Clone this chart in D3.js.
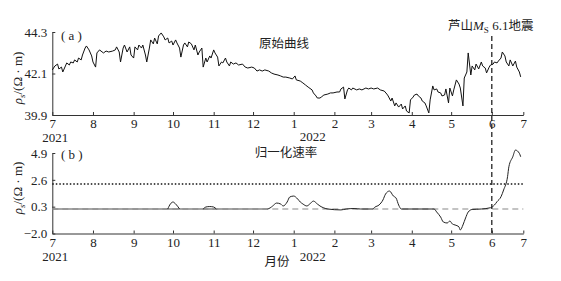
<!DOCTYPE html>
<html lang="zh-CN">
<head>
<meta charset="utf-8">
<title>芦山 视电阻率</title>
<script src="https://d3js.org/d3.v7.min.js"></script>
<style>
  body { margin: 0; background: #fff; }
  svg text { fill: #222; }
  .num { font-family: "Liberation Serif", serif; font-size: 13px; }
  .cjk { font-family: "Noto Sans CJK SC", sans-serif; font-size: 12.5px; }
</style>
</head>
<body>
<div id="chart"></div>
<script>
// 月份刻度 (最后一个 "7" 在 6/25 处结束)
const tickDates = ["2021-07-01","2021-08-01","2021-09-01","2021-10-01","2021-11-01","2021-12-01",
  "2022-01-01","2022-02-01","2022-03-01","2022-04-01","2022-05-01","2022-06-01","2022-06-25"];
const tickLabels = ["7","8","9","10","11","12","1","2","3","4","5","6","7"];
const quakeDate = "2022-06-01";

// (a) 原始曲线: 自 2021-07-01 起的天数, 视电阻率
const rawDays = [0,2,4,5,7,8,10,11,13,14,16,17,19,20,22,23,25,26,28,30,31,33,34,36,39,41,43,46,48,49,
  51,52,54,55,57,59,60,62,63,65,66,68,69,71,72,74,75,77,78,80,81,83,85,86,88,89,91,92,94,95,
  97,98,100,101,103,104,106,108,109,111,112,114,115,117,118,120,121,123,124,126,127,129,130,132,133,135,136,138,140,142,
  145,147,149,152,154,156,158,160,162,165,167,169,172,174,176,178,181,183,185,186,189,191,193,195,198,199,201,202,204,205,
  207,210,212,214,217,219,220,222,223,225,226,228,229,232,234,236,239,241,243,245,248,250,253,255,256,258,259,261,262,264,
  266,267,269,270,272,273,275,276,278,279,281,282,284,285,287,288,290,291,293,294,296,297,299,300,302,303,305,306,308,310,
  311,313,314,316,317,319,320,322,323,325,327,328,330,331,333,334,336,337,339,340,342,343,345,346,348,349,351,353,354,356,357];
const rawRho = [42.29,42.50,42.60,42.34,42.44,42.18,42.50,42.66,42.55,42.71,42.66,42.82,42.71,42.92,42.82,43.08,43.45,43.56,43.35,43.03,
  42.71,42.44,43.19,43.35,43.19,43.29,43.24,43.29,43.35,43.51,
  43.24,42.71,43.45,43.61,43.24,43.51,43.08,42.92,43.51,43.35,43.61,43.45,43.61,43.08,42.71,43.45,43.88,43.67,43.98,43.67,
  44.09,44.25,44.04,43.88,43.98,43.72,43.82,43.61,43.88,43.72,
  43.45,42.97,43.61,43.72,43.51,43.77,43.67,43.35,43.61,43.08,43.24,43.45,42.44,42.92,42.71,43.03,42.92,43.35,43.19,42.97,
  42.50,42.71,42.66,42.92,42.71,42.50,42.71,42.60,42.66,42.55,
  42.60,42.44,42.39,42.44,42.39,42.23,42.29,42.23,42.29,42.23,42.13,42.07,42.02,41.97,41.91,41.91,41.86,41.81,41.97,41.76,
  41.70,41.60,41.49,41.38,41.23,41.07,40.91,40.80,40.80,40.85,
  40.96,41.01,41.07,41.07,41.12,41.12,41.28,41.38,40.75,41.23,41.33,41.23,41.33,41.23,41.28,41.23,41.33,41.28,41.33,41.28,
  41.33,41.23,41.17,41.01,40.91,40.64,40.80,40.38,40.54,40.32,
  40.48,40.22,40.38,40.11,40.01,40.70,40.85,40.96,41.01,40.91,40.80,40.64,40.54,40.38,40.01,40.70,41.44,41.23,41.28,41.12,
  41.07,40.91,40.96,41.28,40.54,41.33,40.91,41.23,41.76,41.54,
  41.33,40.38,41.86,42.18,43.19,42.02,42.50,42.29,42.60,42.34,42.71,42.50,42.39,42.13,42.44,42.55,42.60,42.71,42.66,42.76,
  42.92,43.24,43.03,42.71,42.50,42.82,42.50,42.76,42.44,42.18,41.92];

// (b) 归一化速率
const rateDays = [0,88,90,92,94,97,115,117,120,123,125,164,166,168,171,174,176,179,181,184,187,189,191,194,197,199,202,204,207,210,
  220,224,230,235,244,246,249,252,254,257,260,262,264,266,291,293,296,298,301,303,305,307,310,311,313,315,317,320,327,334,
  337,339,342,344,347,348,351,353,356,357];
const rateVal = [0.1,0.1,0.53,0.70,0.53,0.1,0.1,0.27,0.31,0.27,0.1,0.1,0.19,0.36,0.61,0.53,0.36,0.70,1.13,1.21,0.96,0.70,0.53,0.36,0.61,0.78,0.53,0.36,0.19,0.1,
  0.02,0.1,0.14,0.1,0.1,0.27,0.44,0.87,1.38,1.64,1.21,1.04,0.44,0.1,0.1,-0.16,-0.59,-1.01,-1.10,-0.93,-1.19,-1.27,-1.44,-1.70,-1.27,-0.67,-0.16,0.06,0.1,0.21,
  0.44,0.73,1.15,1.73,2.87,3.72,4.58,5.15,4.87,4.58];
const rateBase = 0.1;
const rateThreshold = 2.25;
const flatUntil = 164; // 之前的平直段为灰色
const bumps = [[88, 97], [115, 125]];

const topTicks = [39.9, 42.1, 44.3];
const botTicks = [-2.0, 0.3, 2.6, 4.9];

const W = 561, H = 281;
const x0 = 52.3, x1 = 523.3;
const dayToDate = d => new Date(2021, 6, 1 + d);
const parse = d3.timeParse("%Y-%m-%d");

const x = d3.scaleTime().domain([parse(tickDates[0]), parse(tickDates[tickDates.length - 1])]).range([x0, x1]);
const yTop = d3.scaleLinear().domain([39.9, 44.3]).range([115, 32]);
const yBot = d3.scaleLinear().domain([-2.0, 4.9]).range([233.5, 153]);

const svg = d3.select("#chart").append("svg")
  .attr("width", W).attr("height", H)
  .attr("viewBox", `0 0 ${W} ${H}`);

function drawAxes(y, ticks, fmt) {
  const base = y.range()[0];
  const gx = svg.append("g").attr("transform", `translate(0,${base})`)
    .call(d3.axisBottom(x).tickValues(tickDates.map(parse))
      .tickFormat((d, i) => tickLabels[i]).tickSize(-3).tickSizeOuter(0).tickPadding(4));
  const gy = svg.append("g").attr("transform", `translate(${x0},0)`)
    .call(d3.axisLeft(y).tickValues(ticks).tickFormat(fmt).tickSize(-3).tickSizeOuter(0).tickPadding(5));
  [gx, gy].forEach(g => {
    g.selectAll("path, line").attr("stroke", "#333");
    g.selectAll("text").attr("font-family", "Liberation Serif").attr("fill", "#222").style("font-size", "13px");
  });
}

drawAxes(yTop, topTicks, d3.format(".1f"));
drawAxes(yBot, botTicks, d => d3.format(".1f")(d).replace("-", "\u2212"));

// 年份
function yearLabel(txt, date, dx, yy) {
  svg.append("text").attr("class", "num").attr("text-anchor", "middle")
    .attr("x", x(parse(date)) + dx).attr("y", yy).text(txt);
}
yearLabel("2021", "2021-07-01", 3, 142);
yearLabel("2022", "2022-01-01", 19, 141);
yearLabel("2021", "2021-07-01", 3, 261);
yearLabel("2022", "2022-01-01", 19, 261);

// 原始曲线
const rawData = rawDays.map((d, i) => ({ date: dayToDate(d), v: rawRho[i] }));
svg.append("path").datum(rawData)
  .attr("fill", "none").attr("stroke", "#111").attr("stroke-width", 1)
  .attr("stroke-linejoin", "round")
  .attr("d", d3.line().x(d => x(d.date)).y(d => yTop(d.v)));

// 参考线
svg.append("line")
  .attr("x1", x0).attr("x2", x1).attr("y1", yBot(rateThreshold)).attr("y2", yBot(rateThreshold))
  .attr("stroke", "#111").attr("stroke-width", 1.5).attr("stroke-dasharray", "1.5,2");
svg.append("line")
  .attr("x1", x0).attr("x2", x1).attr("y1", yBot(rateBase)).attr("y2", yBot(rateBase))
  .attr("stroke", "#888").attr("stroke-width", 1.2).attr("stroke-dasharray", "6,4");

// 归一化速率
const rateData = rateDays.map((d, i) => ({ day: d, date: dayToDate(d), v: rateVal[i] }));
const rl = d3.line().x(d => x(d.date)).y(d => yBot(d.v)).curve(d3.curveMonotoneX);

// 早期平直段: 灰色实线
svg.append("path")
  .datum(rateData.filter(d => d.day <= flatUntil))
  .attr("fill", "none").attr("stroke", "#888").attr("stroke-width", 1.6)
  .attr("d", d3.line().x(d => x(d.date)).y(() => yBot(rateBase)));
// 早期小起伏
svg.selectAll(".bump").data(bumps).enter().append("path")
  .attr("fill", "none").attr("stroke", "#222").attr("stroke-width", 1)
  .attr("d", r => rl(rateData.filter(d => d.day >= r[0] && d.day <= r[1])));
// 之后的曲线
svg.append("path")
  .datum(rateData.filter(d => d.day >= flatUntil))
  .attr("fill", "none").attr("stroke", "#222").attr("stroke-width", 1)
  .attr("d", rl);

// 地震时刻
svg.append("line")
  .attr("x1", x(parse(quakeDate))).attr("x2", x(parse(quakeDate)))
  .attr("y1", 36).attr("y2", yBot.range()[0])
  .attr("stroke", "#111").attr("stroke-width", 1.2).attr("stroke-dasharray", "5,3");

// 文字
svg.append("text").attr("class", "num").attr("x", 61).attr("y", 40).attr("xml:space", "preserve").text("( a )");
svg.append("text").attr("class", "num").attr("x", 61).attr("y", 159).attr("xml:space", "preserve").text("( b )");
svg.append("text").attr("class", "cjk").attr("text-anchor", "middle").attr("x", 284).attr("y", 48).text("原始曲线");
svg.append("text").attr("class", "cjk").attr("text-anchor", "middle").attr("x", 286).attr("y", 157).text("归一化速率");
svg.append("text").attr("class", "cjk").attr("text-anchor", "middle").attr("x", 277).attr("y", 266).text("月份");

const eq = svg.append("text").attr("x", 448).attr("y", 30);
eq.append("tspan").attr("class", "cjk").text("芦山");
eq.append("tspan").attr("font-family", "Liberation Serif").attr("font-size", 13).attr("font-style", "italic").text("M");
eq.append("tspan").attr("font-family", "Liberation Serif").attr("font-size", 9).attr("dy", 3).text("S");
eq.append("tspan").attr("font-family", "Liberation Serif").attr("font-size", 13).attr("dy", -3).text("\u00a06.1");
eq.append("tspan").attr("class", "cjk").text("地震");

function yTitle(cy) {
  const t = svg.append("text").attr("transform", `translate(22,${cy}) rotate(-90)`)
    .attr("text-anchor", "middle").attr("font-family", "Liberation Serif").attr("font-size", 13);
  t.append("tspan").attr("font-style", "italic").text("ρ");
  t.append("tspan").attr("font-size", 9).attr("font-style", "italic").attr("dy", 3).text("s");
  t.append("tspan").attr("dy", -3).text("/(Ω · m)");
}
yTitle(78);
yTitle(188);
</script>
</body>
</html>
